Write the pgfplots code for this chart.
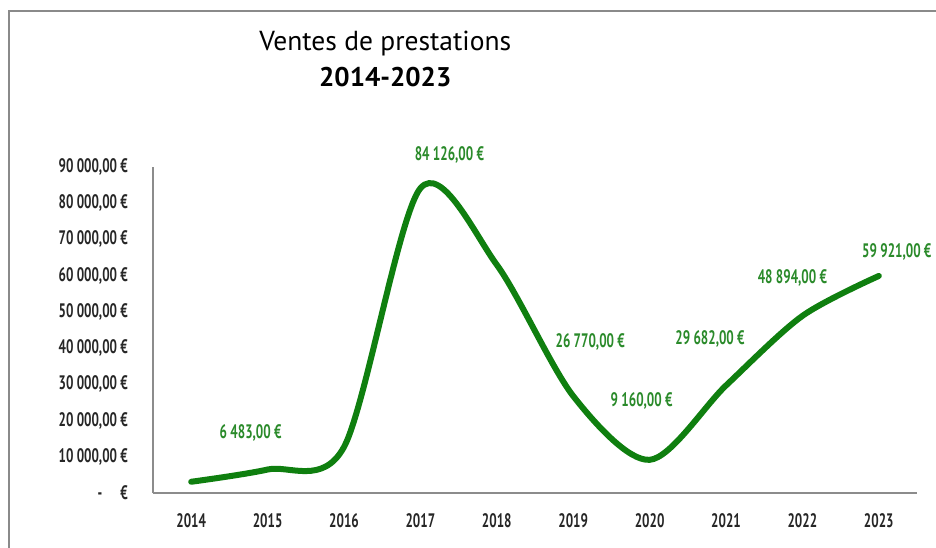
\documentclass[border=0pt]{standalone}
\usepackage{fontspec}
\setmainfont{PT Sans}
\newfontfamily\condfont[FakeStretch=0.67]{PT Sans}
\usepackage{pgfplots}
\usepackage{pgfplotstable}
\pgfplotsset{compat=1.18}
\definecolor{lgreen}{HTML}{0F7F0F}
\definecolor{tgreen}{HTML}{2A8A2A}
\definecolor{axgray}{HTML}{8C8C8C}
\definecolor{framegray}{HTML}{8A8A8A}

\pgfplotstableread{
year value dx dy label
2014 3100 0 0 {}
2015 6483 -17 37 {6 483,00 €}
2016 12700 0 0 {}
2017 84126 29 33 {84 126,00 €}
2018 63000 0 0 {}
2019 26770 17 54 {26 770,00 €}
2020 9160 -8 59 {9 160,00 €}
2021 29682 -16 47 {29 682,00 €}
2022 48894 -10 38 {48 894,00 €}
2023 59921 18 24 {59 921,00 €}
}\sales

\begin{document}
\begin{tikzpicture}
\draw[framegray, line width=1.5bp] (9bp,0) -- (9bp,537bp) -- (936bp,537bp);
\begin{axis}[
  scale only axis, width=764bp, height=326bp,
  at={(153bp,55bp)}, anchor=south west,
  xmin=2013.5, xmax=2023.5, ymin=0, ymax=90000,
  scaled y ticks=false, scaled x ticks=false,
  axis x line=bottom, axis y line=left,
  axis line style={draw=axgray, line width=1.5bp, -},
  xtick={2014,2015,2016,2017,2018,2019,2020,2021,2022,2023},
  xticklabels={2014,2015,2016,2017,2018,2019,2020,2021,2022,2023},
  ytick={0,10000,20000,30000,40000,50000,60000,70000,80000,90000},
  yticklabels={{-\hspace{18bp}€},{10 000,00 €},{20 000,00 €},{30 000,00 €},{40 000,00 €},{50 000,00 €},{60 000,00 €},{70 000,00 €},{80 000,00 €},{90 000,00 €}},
  major tick length=0pt, tick style={draw=none},
  ticklabel style={font=\condfont\bfseries\fontsize{19.5bp}{21bp}\selectfont, text=black!85, inner sep=0pt},
  yticklabel style={anchor=east, xshift=-25bp},
  xticklabel style={anchor=north, yshift=-20bp},
  title={Ventes de prestations\\{\fontsize{27bp}{36bp}\selectfont\bfseries 2014-2023}},
  title style={at={(axis description cs:0.304,1)}, anchor=south, yshift=74bp, align=center, inner sep=0pt, font=\fontsize{27.5bp}{36bp}\selectfont},
  clip=false,
]
\addplot[smooth, tension=0.5, color=lgreen, line width=6bp, line cap=round,
  nodes near coords, point meta=explicit symbolic,
  visualization depends on={\thisrow{dx} \as \dx},
  visualization depends on={\thisrow{dy} \as \dy},
  every node near coord/.append style={anchor=center, xshift=\dx bp, yshift=\dy bp,
    font=\condfont\bfseries\fontsize{19.5bp}{21bp}\selectfont, text=tgreen, inner sep=0pt}
] table[x=year, y=value, meta=label] {\sales};
\end{axis}
\pgfresetboundingbox
\useasboundingbox (0,0) rectangle (936bp,548bp);
\end{tikzpicture}
\end{document}
